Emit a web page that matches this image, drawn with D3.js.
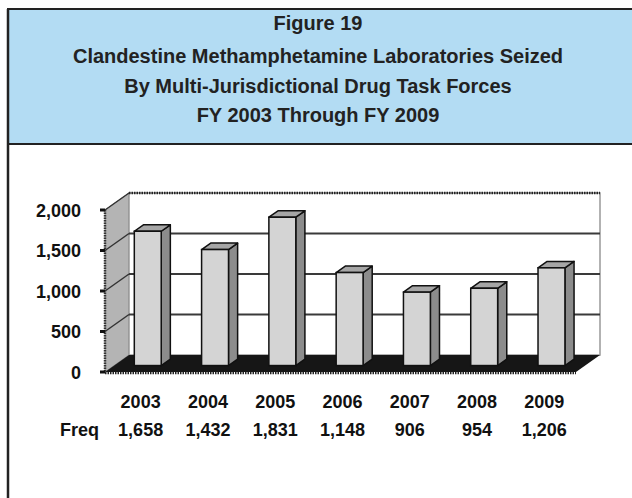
<!DOCTYPE html>
<html>
<head>
<meta charset="utf-8">
<script src="https://cdn.jsdelivr.net/npm/d3@7"></script>
<style>
  body { margin: 0; background: #fff; }
  svg text { font-family: "Liberation Sans", Arial, sans-serif; font-weight: bold; fill: #111; }
</style>
</head>
<body>
<div id="chart"></div>
<script>
/* DATA */
const years = ["2003", "2004", "2005", "2006", "2007", "2008", "2009"];
const labs = [1658, 1432, 1831, 1148, 906, 954, 1206];
const yTicks = [0, 500, 1000, 1500, 2000];
const titleLines = [
  "Figure 19",
  "Clandestine Methamphetamine Laboratories Seized",
  "By Multi-Jurisdictional Drug Task Forces",
  "FY 2003 Through FY 2009"
];

/* CONSTANTS */
const width = 632,
  height = 498,
  depthX = 24,   // 3d depth of the plot box
  depthY = -17,
  barT = 0.38,   // where the bars sit inside the depth
  barD = 0.38;   // how deep the bars are

const svg = d3.select("#chart").append("svg")
  .attr("width", width)
  .attr("height", height);

// + HEADER BOX
svg.append("rect")
  .attr("x", 8).attr("y", 9)
  .attr("width", width).attr("height", 135)
  .attr("fill", "#b3dcf3")
  .attr("stroke", "#222")
  .attr("stroke-width", 2);

svg.append("line")
  .attr("x1", 8).attr("x2", 8)
  .attr("y1", 9).attr("y2", height)
  .attr("stroke", "#222").attr("stroke-width", 2.5);

const titleY = [30, 63, 93, 122];
svg.selectAll("text.title")
  .data(titleLines)
  .join("text")
  .attr("class", "title")
  .attr("x", 318)
  .attr("y", (d, i) => titleY[i])
  .attr("text-anchor", "middle")
  .attr("font-size", 20)
  .style("fill", "#222")
  .text(d => d);

// + SCALES
const xScale = d3.scaleBand()
  .domain(years)
  .range([105, 576]);

const yScale = d3.scaleLinear()
  .domain([0, 2000])
  .range([372, 210]);

const x0 = xScale.range()[0], x1 = xScale.range()[1];
const y0 = yScale(0), yTop = yScale(2000);

// + 3D BOX: side wall, back wall, floor
svg.append("polygon")
  .attr("points", [[x0, y0], [x0, yTop], [x0 + depthX, yTop + depthY], [x0 + depthX, y0 + depthY]].join(" "))
  .attr("fill", "#b4b4b4")
  .attr("stroke", "#888");

svg.append("rect")
  .attr("x", x0 + depthX).attr("y", yTop + depthY)
  .attr("width", x1 - x0).attr("height", y0 - yTop)
  .attr("fill", "#fff")
  .attr("stroke", "#999")
  .attr("stroke-width", 1.5);

// dotted top edge of back wall
svg.append("line")
  .attr("x1", x0 + depthX).attr("x2", x1 + depthX)
  .attr("y1", yTop + depthY).attr("y2", yTop + depthY)
  .attr("stroke", "#222").attr("stroke-width", 2.5)
  .attr("stroke-dasharray", "1.5,1");

// gridlines on back wall and side wall
const grid = yTicks.filter(d => d > 0 && d < 2000);
svg.selectAll("line.grid")
  .data(grid)
  .join("line")
  .attr("class", "grid")
  .attr("x1", x0 + depthX).attr("x2", x1 + depthX)
  .attr("y1", d => yScale(d) + depthY).attr("y2", d => yScale(d) + depthY)
  .attr("stroke", "#3a3a3a").attr("stroke-width", 2);

svg.selectAll("line.sidegrid")
  .data(yTicks.filter(d => d > 0))
  .join("line")
  .attr("class", "sidegrid")
  .attr("x1", x0).attr("x2", x0 + depthX)
  .attr("y1", d => yScale(d)).attr("y2", d => yScale(d) + depthY)
  .attr("stroke", "#333").attr("stroke-width", 1.5);

svg.append("polygon")
  .attr("points", [[x0, y0], [x1, y0], [x1 + depthX, y0 + depthY], [x0 + depthX, y0 + depthY]].join(" "))
  .attr("fill", "#161616");

// dotted front edge of floor
svg.append("line")
  .attr("x1", x0).attr("x2", x1)
  .attr("y1", y0 + 1).attr("y2", y0 + 1)
  .attr("stroke", "#222").attr("stroke-width", 2.5)
  .attr("stroke-dasharray", "1.5,1");

// + Y AXIS
svg.append("line")
  .attr("x1", x0).attr("x2", x0)
  .attr("y1", yTop).attr("y2", y0)
  .attr("stroke", "#333").attr("stroke-width", 2.5)
  .attr("stroke-dasharray", "1.5,1");

svg.selectAll("line.tick")
  .data(yTicks)
  .join("line")
  .attr("class", "tick")
  .attr("x1", x0 - 5).attr("x2", x0)
  .attr("y1", d => yScale(d)).attr("y2", d => yScale(d))
  .attr("stroke", "#111").attr("stroke-width", 3);

svg.selectAll("text.ylabel")
  .data(yTicks)
  .join("text")
  .attr("class", "ylabel")
  .attr("x", 81)
  .attr("y", d => yScale(d) + 6.5)
  .attr("text-anchor", "end")
  .attr("font-size", 18)
  .text(d => d3.format(",")(d));

// + BARS
const barW = xScale.bandwidth() * 0.4;
const sx = depthX * barT, sy = depthY * barT;
const bdx = depthX * barD, bdy = depthY * barD;

const bars = svg.selectAll("g.bar")
  .data(years.map((y, i) => ({ year: y, value: labs[i] })))
  .join("g")
  .attr("class", "bar");

const bx = d => xScale(d.year) + (xScale.bandwidth() - barW) / 2 + sx;
const by = d => yScale(d.value) + sy;
const base = y0 + sy;

bars.append("polygon")
  .attr("points", d => [[bx(d) + barW, by(d)], [bx(d) + barW + bdx, by(d) + bdy],
    [bx(d) + barW + bdx, base + bdy], [bx(d) + barW, base]].join(" "))
  .attr("fill", "#8c8c8c")
  .attr("stroke", "#111").attr("stroke-width", 1.5).attr("stroke-linejoin", "round");

bars.append("polygon")
  .attr("points", d => [[bx(d), by(d)], [bx(d) + barW, by(d)],
    [bx(d) + barW + bdx, by(d) + bdy], [bx(d) + bdx, by(d) + bdy]].join(" "))
  .attr("fill", "#a6a6a6")
  .attr("stroke", "#111").attr("stroke-width", 1.5).attr("stroke-linejoin", "round");

bars.append("rect")
  .attr("x", bx)
  .attr("y", by)
  .attr("width", barW)
  .attr("height", d => base - by(d))
  .attr("fill", "#d4d4d4")
  .attr("stroke", "#111").attr("stroke-width", 1.5);

// + DATA TABLE
const colX = d => xScale(d) + xScale.bandwidth() / 2 + 2;

svg.selectAll("text.year")
  .data(years)
  .join("text")
  .attr("class", "year")
  .attr("x", colX)
  .attr("y", 408)
  .attr("text-anchor", "middle")
  .attr("font-size", 18)
  .text(d => d);

svg.append("text")
  .attr("x", 99).attr("y", 436)
  .attr("text-anchor", "end")
  .attr("font-size", 18)
  .text("Freq");

svg.selectAll("text.freq")
  .data(labs)
  .join("text")
  .attr("class", "freq")
  .attr("x", (d, i) => colX(years[i]))
  .attr("y", 436)
  .attr("text-anchor", "middle")
  .attr("font-size", 18)
  .text(d => d3.format(",")(d));
</script>
</body>
</html>
